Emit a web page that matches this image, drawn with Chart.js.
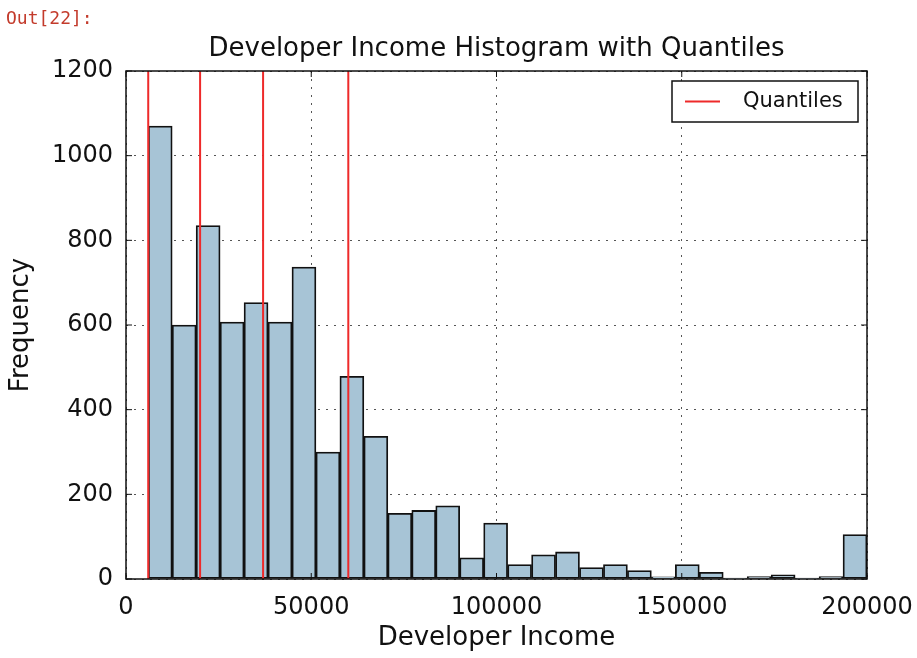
<!DOCTYPE html>
<html>
<head>
<meta charset="utf-8">
<script src="https://cdn.jsdelivr.net/npm/chart.js@4.4.1/dist/chart.umd.min.js"></script>
<style>
  html, body { margin: 0; padding: 0; background: #fff; }
  #wrap { position: relative; width: 917px; height: 658px; }
  #prompt { position: absolute; left: 6px; top: 7px; font: 18px "DejaVu Sans Mono", monospace; color: #c33b2c; }
  canvas { display: block; }
</style>
</head>
<body>
<div id="wrap">
  <div id="prompt">Out[22]:</div>
  <canvas id="histChart" width="917" height="658"></canvas>
</div>
<script>
// Histogram bins (income range split into equal bins)
const binLow = 6000;
const binHigh = 200000;
const counts = [1070, 600, 835, 607, 653, 607, 737, 300, 479, 337,
                155, 162, 173, 50, 132, 34, 57, 64, 27, 34,
                20, 5, 34, 16, 2, 6, 10, 2, 6, 105];
const quantiles = [6000, 20000, 37000, 60000];
const xTicks = [0, 50000, 100000, 150000, 200000];
const yTicks = [0, 200, 400, 600, 800, 1000, 1200];

const binWidth = (binHigh - binLow) / counts.length;
const barPoints = counts.map((c, i) => ({ x: binLow + binWidth * (i + 0.5), y: c }));

// each quantile is a vertical segment, separated by gaps
const quantilePoints = [];
quantiles.forEach(q => {
  quantilePoints.push({ x: q, y: yTicks[0] }, { x: q, y: yTicks[yTicks.length - 1] }, { x: q, y: null });
});

const font = "DejaVu Sans";

// frame, inward ticks and legend box (matplotlib classic look)
const framePlugin = {
  id: "frame",
  afterDraw(chart) {
    const { ctx, chartArea: a, scales } = chart;
    const line = (x1, y1, x2, y2) => { ctx.beginPath(); ctx.moveTo(x1, y1); ctx.lineTo(x2, y2); ctx.stroke(); };
    ctx.save();
    ctx.strokeStyle = "#111";
    ctx.lineWidth = 1;
    xTicks.forEach(v => {
      const px = scales.x.getPixelForValue(v);
      line(px, a.bottom, px, a.bottom - 6);
      line(px, a.top, px, a.top + 6);
    });
    yTicks.forEach(v => {
      const py = scales.y.getPixelForValue(v);
      line(a.left, py, a.left + 6, py);
      line(a.right, py, a.right - 6, py);
    });
    ctx.lineWidth = 1.5;
    ctx.strokeRect(a.left, a.top, a.right - a.left, a.bottom - a.top);

    // legend
    const w = 186, h = 41;
    const lx = a.right - 9 - w, ly = a.top + 10;
    ctx.fillStyle = "#fff";
    ctx.fillRect(lx, ly, w, h);
    ctx.strokeRect(lx, ly, w, h);
    ctx.strokeStyle = "#ee2a2a";
    ctx.lineWidth = 2;
    line(lx + 13, ly + h / 2, lx + 48, ly + h / 2);
    ctx.fillStyle = "#111";
    ctx.font = "21px " + font;
    ctx.textBaseline = "middle";
    ctx.fillText("Quantiles", lx + 71, ly + h / 2);
    ctx.restore();
  }
};

const ctx = document.getElementById("histChart").getContext("2d");
new Chart(ctx, {
  type: "bar",
  data: {
    datasets: [
      {
        type: "bar",
        label: "Developer Income",
        data: barPoints,
        backgroundColor: "#a7c4d6",
        borderColor: "#111",
        borderWidth: 1.8,
        borderSkipped: false,
        barPercentage: 1,
        categoryPercentage: 1,
        xAxisID: "x",
        order: 2
      },
      {
        type: "line",
        label: "Quantiles",
        data: quantilePoints,
        borderColor: "#ee2a2a",
        borderWidth: 2,
        pointRadius: 0,
        spanGaps: false,
        fill: false,
        xAxisID: "x",
        order: 1
      }
    ]
  },
  options: {
    responsive: false,
    animation: false,
    layout: { padding: { left: 0, right: 50, top: 0, bottom: 0 } },
    plugins: {
      legend: { display: false },
      tooltip: { enabled: false }
    },
    scales: {
      // top axis only carries the chart title, centred over the plot
      top: {
        type: "linear",
        axis: "x",
        position: "top",
        min: 0,
        max: 1,
        afterFit: s => { s.height = 71; s.paddingLeft = 0; s.paddingRight = 0; },
        grid: { display: false },
        border: { display: false },
        ticks: { display: false },
        title: {
          display: true,
          text: "Developer Income Histogram with Quantiles",
          color: "#111",
          font: { family: font, size: 26 },
          padding: { top: 34, bottom: 0 }
        }
      },
      x: {
        type: "linear",
        min: 0,
        max: 200000,
        offset: false,
        z: 1,
        afterBuildTicks: s => { s.ticks = xTicks.map(v => ({ value: v })); },
        afterFit: s => { s.height = 79; s.paddingLeft = 0; s.paddingRight = 0; },
        grid: { offset: false, color: "#555", lineWidth: 1, drawTicks: false },
        border: { display: false, dash: [2, 6] },
        ticks: {
          padding: 14,
          color: "#111",
          maxRotation: 0,
          autoSkip: false,
          font: { family: font, size: 24 },
          callback: v => String(v)
        },
        title: {
          display: true,
          text: "Developer Income",
          color: "#111",
          font: { family: font, size: 26 },
          padding: { top: 0, bottom: 4 }
        }
      },
      y: {
        min: 0,
        max: 1200,
        z: 1,
        afterBuildTicks: s => { s.ticks = yTicks.map(v => ({ value: v })); },
        afterFit: s => { s.width = 126; },
        grid: { color: "#555", lineWidth: 1, drawTicks: false },
        border: { display: false, dash: [2, 6] },
        ticks: {
          padding: 13,
          color: "#111",
          font: { family: font, size: 24 },
          callback: v => String(v)
        },
        title: {
          display: true,
          text: "Frequency",
          color: "#111",
          font: { family: font, size: 26 },
          padding: { top: 6, bottom: 0 }
        }
      }
    }
  },
  plugins: [framePlugin]
});
</script>
</body>
</html>
